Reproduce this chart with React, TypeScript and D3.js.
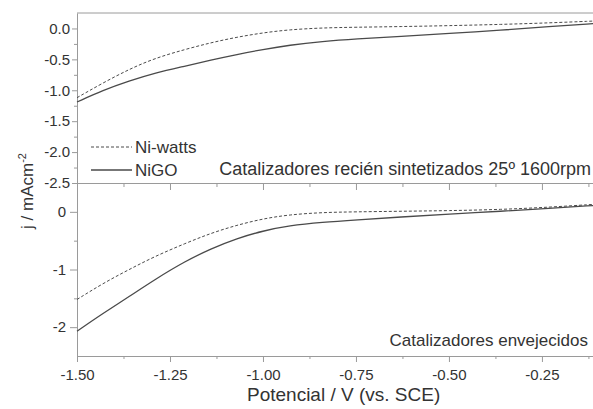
import { useEffect, useRef } from "react"
import * as d3 from "d3"

const potentials = [-1.5, -1.43, -1.36, -1.29, -1.21, -1.14, -1.07, -1.0, -0.93, -0.84, -0.75, -0.63, -0.5, -0.36, -0.23, -0.11]

// fresh catalysts (top panel), mA cm-2
const freshNiWatts = [-1.12, -0.88, -0.66, -0.48, -0.34, -0.23, -0.14, -0.07, -0.02, 0.01, 0.02, 0.03, 0.045, 0.065, 0.09, 0.12]
const freshNiGO = [-1.19, -1.0, -0.85, -0.72, -0.61, -0.51, -0.42, -0.34, -0.27, -0.21, -0.17, -0.13, -0.08, -0.03, 0.03, 0.08]

// aged catalysts (bottom panel)
const agedNiWatts = [-1.52, -1.24, -1.0, -0.77, -0.55, -0.37, -0.23, -0.12, -0.05, -0.01, 0.0, 0.01, 0.02, 0.04, 0.08, 0.13]
const agedNiGO = [-2.07, -1.76, -1.47, -1.17, -0.86, -0.64, -0.46, -0.33, -0.24, -0.18, -0.14, -0.09, -0.04, 0.01, 0.06, 0.11]

const seriesNames = ["Ni-watts", "NiGO"]
const panelTitles = ["Catalizadores recién sintetizados 25º 1600rpm", "Catalizadores envejecidos"]

const xMajorTicks = [-1.5, -1.25, -1.0, -0.75, -0.5, -0.25]
const xMinorTicks = [-1.375, -1.125, -0.875, -0.625, -0.375, -0.125]
const topMajorTicks = [-2.5, -2.0, -1.5, -1.0, -0.5, 0.0]
const topMinorTicks = [-2.25, -1.75, -1.25, -0.75, -0.25]
const bottomMajorTicks = [-2, -1, 0]
const bottomMinorTicks = [-1.5, -0.5]

const FONT = "'Liberation Sans', Arial, sans-serif"
const AXIS = "#9a9a9a"
const TEXT = "#333"
const LINE = "#4a4a4a"

export default function App() {
  const svgRef = useRef(null)

  useEffect(() => {
    const svg = d3.select(svgRef.current)
    svg.selectAll("*").remove()

    const left = 77
    const right = 594
    const top = 13
    const mid = 183
    const bottom = 356

    const x = d3.scaleLinear().domain([-1.5, -0.11]).range([left, right])
    const yTop = d3.scaleLinear().domain([-2.5, 0.25]).range([mid, top])
    const yBottom = d3.scaleLinear().domain([-2.5, 0.5]).range([bottom, mid])

    const styleAxis = (g) => {
      g.selectAll("path").attr("stroke", AXIS).attr("stroke-width", 1)
      g.selectAll("line").attr("stroke", AXIS).attr("stroke-width", 1)
      g.selectAll("text").attr("fill", TEXT).style("font-family", FONT).style("font-size", "15px")
    }

    // top border
    svg
      .append("line")
      .attr("x1", left)
      .attr("x2", right)
      .attr("y1", top)
      .attr("y2", top)
      .attr("stroke", AXIS)

    // x axes
    svg
      .append("g")
      .attr("transform", `translate(0,${mid})`)
      .call(d3.axisBottom(x).tickValues(xMajorTicks).tickSize(7).tickSizeOuter(0).tickFormat(() => ""))
      .call(styleAxis)
    svg
      .append("g")
      .attr("transform", `translate(0,${mid})`)
      .call(d3.axisBottom(x).tickValues(xMinorTicks).tickSize(4).tickSizeOuter(0).tickFormat(() => ""))
      .call(styleAxis)
      .select("path")
      .remove()
    svg
      .append("g")
      .attr("transform", `translate(0,${bottom})`)
      .call(
        d3
          .axisBottom(x)
          .tickValues(xMajorTicks)
          .tickSize(6)
          .tickPadding(7)
          .tickSizeOuter(0)
          .tickFormat((d) => d.toFixed(2))
      )
      .call(styleAxis)
    svg
      .append("g")
      .attr("transform", `translate(0,${bottom})`)
      .call(d3.axisBottom(x).tickValues(xMinorTicks).tickSize(3).tickSizeOuter(0).tickFormat(() => ""))
      .call(styleAxis)
      .select("path")
      .remove()

    // y axes
    svg
      .append("g")
      .attr("transform", `translate(${left},0)`)
      .call(
        d3
          .axisLeft(yTop)
          .tickValues(topMajorTicks)
          .tickSize(5)
          .tickPadding(2)
          .tickSizeOuter(0)
          .tickFormat((d) => d.toFixed(1))
      )
      .call(styleAxis)
    svg
      .append("g")
      .attr("transform", `translate(${left},0)`)
      .call(d3.axisLeft(yTop).tickValues(topMinorTicks).tickSize(3).tickFormat(() => ""))
      .call(styleAxis)
      .select("path")
      .remove()
    svg
      .append("g")
      .attr("transform", `translate(${left},0)`)
      .call(
        d3
          .axisLeft(yBottom)
          .tickValues(bottomMajorTicks)
          .tickSize(7)
          .tickPadding(4)
          .tickSizeOuter(0)
          .tickFormat((d) => String(d))
      )
      .call(styleAxis)
    svg
      .append("g")
      .attr("transform", `translate(${left},0)`)
      .call(d3.axisLeft(yBottom).tickValues(bottomMinorTicks).tickSize(3).tickFormat(() => ""))
      .call(styleAxis)
      .select("path")
      .remove()

    // curves
    const panels = [
      { y: yTop, data: [freshNiWatts, freshNiGO] },
      { y: yBottom, data: [agedNiWatts, agedNiGO] },
    ]
    panels.forEach((panel) => {
      const gen = d3
        .line()
        .x((d, i) => x(potentials[i]))
        .y((d) => panel.y(d))
        .curve(d3.curveBasis)
      panel.data.forEach((values, k) => {
        svg
          .append("path")
          .attr("d", gen(values))
          .attr("fill", "none")
          .attr("stroke", LINE)
          .attr("stroke-width", k === 0 ? 1 : 1.3)
          .attr("stroke-dasharray", k === 0 ? "3,2" : null)
      })
    })

    // legend
    seriesNames.forEach((name, k) => {
      const ly = 147 + k * 23
      svg
        .append("line")
        .attr("x1", 91)
        .attr("x2", 132)
        .attr("y1", ly)
        .attr("y2", ly)
        .attr("stroke", LINE)
        .attr("stroke-width", k === 0 ? 1 : 1.3)
        .attr("stroke-dasharray", k === 0 ? "3,2" : null)
      svg
        .append("text")
        .attr("x", 135)
        .attr("y", ly + 6)
        .attr("fill", TEXT)
        .style("font-family", FONT)
        .style("font-size", "17px")
        .text(name)
    })

    // panel titles
    svg
      .append("text")
      .attr("x", 591)
      .attr("y", 175)
      .attr("text-anchor", "end")
      .attr("fill", TEXT)
      .style("font-family", FONT)
      .style("font-size", "18px")
      .text(panelTitles[0])
    svg
      .append("text")
      .attr("x", 588)
      .attr("y", 346)
      .attr("text-anchor", "end")
      .attr("fill", TEXT)
      .style("font-family", FONT)
      .style("font-size", "17px")
      .text(panelTitles[1])

    // axis titles
    svg
      .append("text")
      .attr("x", 247)
      .attr("y", 401)
      .attr("fill", TEXT)
      .style("font-family", FONT)
      .style("font-size", "19px")
      .text("Potencial / V (vs. SCE)")

    const yLabel = svg
      .append("text")
      .attr("transform", "translate(33,191) rotate(-90)")
      .attr("text-anchor", "middle")
      .attr("fill", TEXT)
      .style("font-family", FONT)
      .style("font-size", "17px")
    yLabel.append("tspan").text("j / mAcm")
    yLabel.append("tspan").attr("dy", -7).style("font-size", "11px").text("-2")
  }, [])

  return (
    <svg
      ref={svgRef}
      width={593}
      height={409}
      style={{ position: "absolute", left: 0, top: 0, background: "#fff" }}
    />
  )
}
